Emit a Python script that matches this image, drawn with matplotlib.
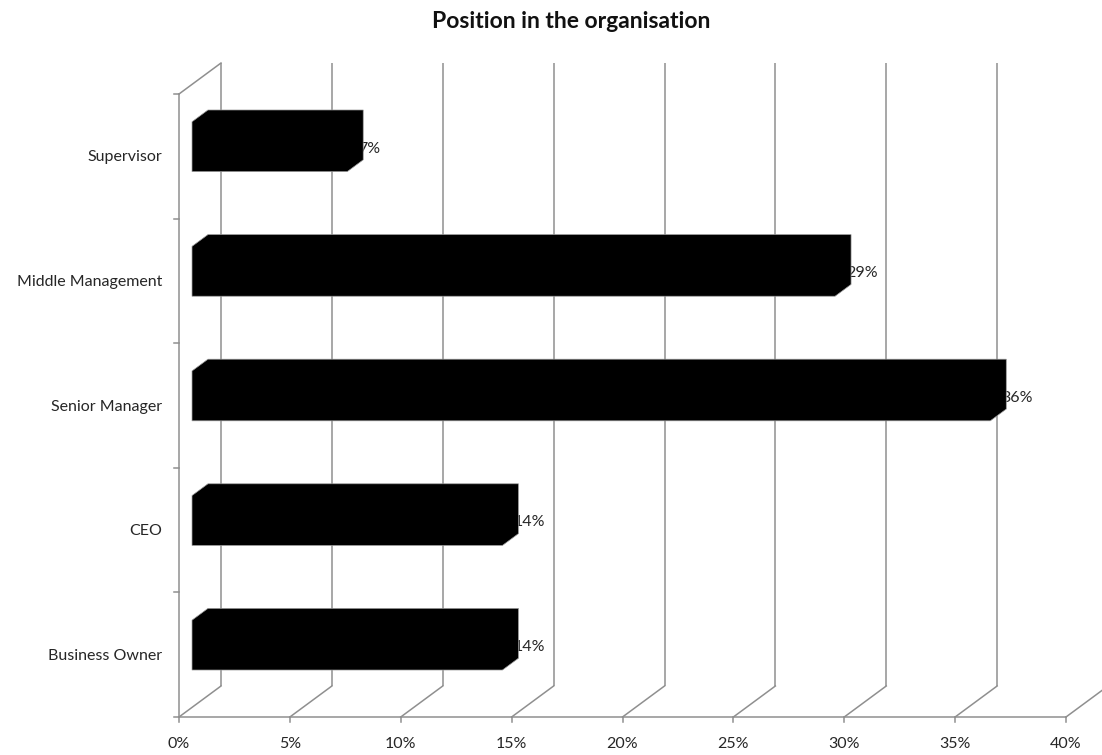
import matplotlib
matplotlib.use("Agg")
import matplotlib.pyplot as plt
from matplotlib.patches import Polygon

# Survey results: position of respondents in the organisation
categories = ["Business Owner", "CEO", "Senior Manager", "Middle Management", "Supervisor"]
shares = [14, 14, 36, 29, 7]          # percent of respondents
x_ticks = [0, 5, 10, 15, 20, 25, 30, 35, 40]
x_tick_labels = [f"{t}%" for t in x_ticks]
title = "Position in the organisation"

# ---- layout (pseudo-3D projection in data units) ----
W, H, DPI = 1102, 755, 100
PX_X = 22.175          # pixels per percent
PX_Y = 124.6           # pixels per category band
X0_PX, Y0_PX = 179, 717  # pixel position of the front-left floor corner
DX = 42 / PX_X         # depth offset in x (percent units)
DY = 31 / PX_Y         # depth offset in y (category units)
F_FRONT, F_BACK = 0.31, 0.69   # depth fractions of bar front/back faces
BAR_H = 0.40
GRID = "#8f8f8f"
FONT = "Lato"
TXT = "#262626"
FS = 11.5

fig = plt.figure(figsize=(W / DPI, H / DPI), dpi=DPI)
ax = fig.add_axes([0, 0, 1, 1])
ax.set_xlim(-X0_PX / PX_X, (W - X0_PX) / PX_X)
ax.set_ylim(-(H - Y0_PX) / PX_Y, Y0_PX / PX_Y)
ax.axis("off")

n = len(categories)
xmax = x_ticks[-1]
tick_x = 5 / PX_X
tick_y = 5 / PX_Y

# back-wall gridlines
for t in x_ticks:
    ax.plot([t + DX, t + DX], [DY, n + DY], color=GRID, lw=1.1, zorder=1,
            solid_capstyle="butt")
# floor diagonals
for t in x_ticks:
    ax.plot([t, t + DX], [0, DY], color=GRID, lw=1.1, zorder=1)
# front floor edge with ticks
ax.plot([0, xmax], [0, 0], color=GRID, lw=1.1, zorder=1)
for t, lab in zip(x_ticks, x_tick_labels):
    ax.plot([t, t], [0, -tick_y], color=GRID, lw=1.1, zorder=1)
    ax.text(t, -27 / PX_Y, lab, ha="center", va="center", fontsize=FS,
            family=FONT, color=TXT)
# left wall
ax.plot([0, 0], [0, n], color=GRID, lw=1.1, zorder=1)
ax.plot([0, DX], [n, n + DY], color=GRID, lw=1.1, zorder=1)
for k in range(n + 1):
    ax.plot([-tick_x, 0], [k, k], color=GRID, lw=1.1, zorder=1)

# category labels
for i, cat in enumerate(categories):
    ax.text(-17 / PX_X, i + 0.5 - 1 / PX_Y, cat, ha="right", va="center",
            fontsize=FS, family=FONT, color=TXT)

# bars as extruded blocks
for i, v in enumerate(shares):
    xf, yf = F_FRONT * DX, F_FRONT * DY
    xb, yb = F_BACK * DX, F_BACK * DY
    yc = i + 0.5
    y_lo, y_hi = yc - BAR_H / 2, yc + BAR_H / 2
    pts = [
        (xf, y_lo + yf),
        (xf, y_hi + yf),
        (xb, y_hi + yb),
        (v + xb, y_hi + yb),
        (v + xb, y_lo + yb),
        (v + xf, y_lo + yf),
    ]
    ax.add_patch(Polygon(pts, closed=True, facecolor="black",
                         edgecolor="#9a9a9a", lw=0.5, zorder=4))
    ax.text(v + xf + 11 / PX_X, yc + yf - 2 / PX_Y, f"{v}%", ha="left",
            va="center", fontsize=FS, family=FONT, color=TXT, zorder=3)

fig.text(571 / W, 1 - 21 / H, title, ha="center", va="center", fontsize=16.5,
         fontweight="bold", family=FONT, color="#111111")

fig.savefig("out.png", dpi=DPI, facecolor="white")
